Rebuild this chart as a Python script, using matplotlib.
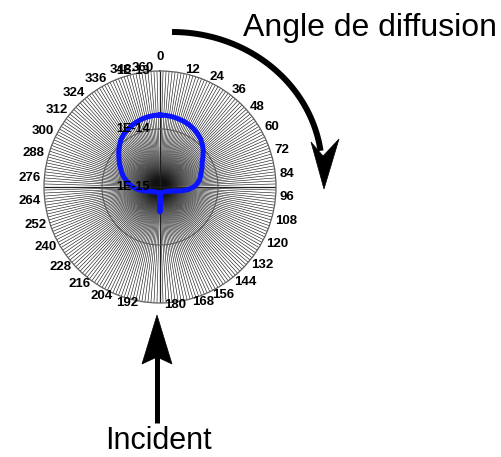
import numpy as np
import matplotlib
matplotlib.use("Agg")
import matplotlib.pyplot as plt
from matplotlib.patches import Polygon

plt.rcParams['font.family'] = ['Liberation Sans', 'DejaVu Sans']

# ---------------- data ----------------
angles_deg = [0, 5, 10, 15, 20, 25, 30, 35, 40, 45, 50, 55, 60, 65, 70, 75, 80, 85,
              90, 95, 100, 105, 110, 115, 120, 130, 140, 150, 160, 170, 175, 180,
              185, 190, 200, 210, 220, 230, 240, 245, 250, 255, 260, 265, 270, 275,
              280, 285, 290, 295, 300, 305, 310, 315, 320, 325, 330, 335, 340, 345,
              350, 355, 360]
intensity = [17.4e-15, 17.3e-15, 17.0e-15, 16.5e-15, 16.0e-15, 15.3e-15, 14.4e-15,
             13.4e-15, 12.2e-15, 10.8e-15, 9.4e-15, 8.0e-15, 6.9e-15, 6.3e-15,
             5.7e-15, 5.3e-15, 4.9e-15, 4.4e-15, 3.8e-15, 3.1e-15, 2.4e-15,
             1.85e-15, 1.61e-15, 1.49e-15, 1.40e-15, 1.32e-15, 1.29e-15, 1.28e-15,
             1.27e-15, 1.27e-15, 1.27e-15, 2.7e-15, 1.27e-15, 1.27e-15, 1.27e-15,
             1.28e-15, 1.29e-15, 1.35e-15, 1.43e-15, 1.49e-15, 1.61e-15, 1.85e-15,
             2.13e-15, 2.54e-15, 2.95e-15, 3.35e-15, 3.85e-15, 4.4e-15, 5.0e-15,
             5.6e-15, 6.4e-15, 7.3e-15, 8.5e-15, 9.8e-15, 11.3e-15, 12.6e-15,
             13.7e-15, 14.6e-15, 15.5e-15, 16.3e-15, 16.9e-15, 17.3e-15, 17.4e-15]
r_ticks = [1e-15, 1e-14, 1e-13]
r_tick_labels = ['1E-15', '1E-14', '1E-13']
theta_tick_labels = ['0', '12', '24', '36', '48', '60', '72', '84', '96', '108', '120',
                     '132', '144', '156', '168', '180', '192', '204', '216', '228',
                     '240', '252', '264', '276', '288', '300', '312', '324', '336',
                     '348', '360']
title_text = 'Angle de diffusion'
incident_text = 'Incident'

# ---------------- layout ----------------
W, H = 501, 457
cx, cy, R = 160, 187, 116
label_px = [(160, 57), (193, 70), (217, 77), (239, 90), (257, 107), (272, 127),
            (282, 150), (287, 174), (287, 197), (286, 221), (277, 244), (262, 265),
            (245, 282), (223, 295), (203, 302), (175, 305), (127, 303), (102, 296),
            (80, 284), (61, 267), (46, 247), (36, 225), (30, 201), (30, 178),
            (33, 153), (43, 131), (57, 110), (74, 93), (96, 79), (121, 70), (143, 68)]

fig = plt.figure(figsize=(W / 100, H / 100), dpi=100)
fig.patch.set_facecolor('white')

ax = fig.add_axes([(cx - R) / W, (H - cy - R) / H, 2 * R / W, 2 * R / H],
                  projection='polar')
ax.set_theta_zero_location('N')
ax.set_theta_direction(-1)
ax.set_rscale('log')
ax.set_rlim(r_ticks[0], r_ticks[-1])
ax.set_xticks([])
ax.set_yticks([])
ax.grid(False)
ax.spines['polar'].set_color('#606060')
ax.spines['polar'].set_linewidth(0.9)

# dense radial spokes
spokes = np.deg2rad(np.arange(0, 360, 1.5))
ax.vlines(spokes, r_ticks[0], r_ticks[-1], colors='#111111', lw=0.42, zorder=2)
ax.vlines(np.deg2rad([0, 90, 180, 270]), r_ticks[0], r_ticks[-1], colors='#202020',
          lw=0.9, zorder=2)
ring_t = np.linspace(0, 2 * np.pi, 400)
ax.plot(ring_t, np.full_like(ring_t, r_ticks[1]), color='#555555', lw=0.7, zorder=2)

# data curve
ax.plot(np.deg2rad(angles_deg), intensity, color='#0a14ff', lw=3.6,
        solid_joinstyle='round', zorder=5)

for v, lab in zip(r_ticks, r_tick_labels):
    ax.annotate(lab, xy=(0, v), xytext=(-10, 0), textcoords='offset pixels',
                ha='right', va='center', fontsize=9, fontweight='bold',
                annotation_clip=False, zorder=6)

# ---------------- overlay in pixel coordinates ----------------
ov = fig.add_axes([0, 0, 1, 1])
ov.set_xlim(0, W)
ov.set_ylim(H, 0)
ov.axis('off')

for lab, (x, y) in zip(theta_tick_labels, label_px):
    ov.text(x, y, lab, ha='center', va='center', fontsize=9.5, fontweight='bold')

# curved arrow "Angle de diffusion"
t = np.linspace(0, np.deg2rad(82), 120)
ov.plot(172 + 150 * np.sin(t), 170 - 138 * np.cos(t), color='black', lw=4.3,
        solid_capstyle='butt')
ov.add_patch(Polygon([(324, 189), (339, 139), (323, 156), (311, 142)],
                     closed=True, facecolor='black', edgecolor='black', lw=0.5))

# incident arrow
ov.plot([157, 157], [355, 423], color='black', lw=3.6, solid_capstyle='butt')
ov.add_patch(Polygon([(157, 315), (172, 364), (157, 357), (142, 364)],
                     closed=True, facecolor='black', edgecolor='black', lw=0.5))

ov.text(243, 36, title_text, ha='left', va='baseline', fontsize=23)
ov.text(105, 449, incident_text, ha='left', va='baseline', fontsize=22)

fig.savefig('out.png', dpi=100, facecolor='white')
